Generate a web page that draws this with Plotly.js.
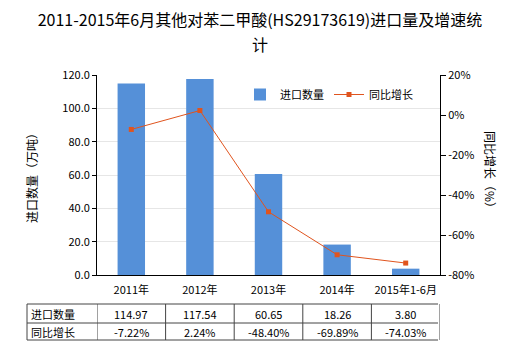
<!DOCTYPE html>
<html><head><meta charset="utf-8">
<script src="https://cdn.plot.ly/plotly-3.0.1.min.js"></script>
<style>html,body{margin:0;padding:0;background:#fff}#c{width:520px;height:350px}</style>
</head><body><div id="c"></div>
<script>
const categories = ['2011年','2012年','2013年','2014年','2015年1-6月'];
const importQty = [114.97, 117.54, 60.65, 18.26, 3.80];
const growthPct = [-7.22, 2.24, -48.40, -69.89, -74.03];
const qtyLabels = ['114.97','117.54','60.65','18.26','3.80'];
const growthLabels = ['-7.22%','2.24%','-48.40%','-69.89%','-74.03%'];
const rowNames = ['进口数量','同比增长'];
const y2TickVals = [-80,-60,-40,-20,0,20];
const y2TickText = ['-80%','-60%','-40%','-20%','0%','20%'];
const titleLine1 = '2011-2015年6月其他对苯二甲酸(HS29173619)进口量及增速统';
const titleLine2 = '计';

const FONT = '"Noto Sans CJK SC", "Microsoft YaHei", sans-serif';
const L = 97, R = 440, T = 75, B = 275, W = 520, H = 350;
const px = x => (x - L) / (R - L);
const py = y => (B - y) / (B - T);

const xs = categories.map((c, i) => i);

const traces = [
  {type:'bar', x: xs, y: importQty, name:'进口数量', width:0.4,
   marker:{color:'#5590d8'}, yaxis:'y'},
  {type:'scatter', mode:'lines+markers', x: xs, y: growthPct, name:'同比增长', yaxis:'y2',
   line:{color:'#e0541e', width:1}, marker:{color:'#e0541e', size:5, symbol:'square'}}
];

const shapes = [];
const annotations = [];
const rowY = [304, 323, 340];
rowY.forEach(y => shapes.push({type:'line', xref:'paper', yref:'paper',
  x0: px(27), x1: px(438), y0: py(y), y1: py(y), line:{color:'#444', width:1}}));
shapes.push({type:'line', xref:'paper', yref:'paper', x0:px(27), x1:px(27), y0:py(304), y1:py(340), line:{color:'#444', width:1}});
for (let i = 0; i <= categories.length; i++) {
  shapes.push({type:'line', xref:'x', yref:'paper', x0:i-0.5, x1:i-0.5, y0:py(304), y1:py(340), line:{color:'#444', width:1}});
}
rowNames.forEach((n, r) => annotations.push({xref:'paper', yref:'paper', x:px(29), y:py(r===0?313.5:331.5),
  xanchor:'left', yanchor:'middle', text:n, showarrow:false, font:{family:FONT, size:11, color:'#000'}}));
categories.forEach((c, i) => {
  annotations.push({xref:'x', yref:'paper', x:i, y:py(314), yanchor:'middle', text:qtyLabels[i], showarrow:false, font:{family:FONT, size:11, color:'#000'}});
  annotations.push({xref:'x', yref:'paper', x:i, y:py(331.5), yanchor:'middle', text:growthLabels[i], showarrow:false, font:{family:FONT, size:11, color:'#000'}});
});
annotations.push({xref:'paper', yref:'paper', x:px(491), y:py(173), xanchor:'center', yanchor:'middle',
  text:'同比增长（%）', textangle:90, showarrow:false, font:{family:FONT, size:12, color:'#000'}});
annotations.push({xref:'paper', yref:'paper', x:px(260), y:py(44), xanchor:'center', yanchor:'middle',
  text:titleLine2, showarrow:false, font:{family:FONT, size:16, color:'#000'}});

const layout = {
  width: W, height: H,
  margin: {l: L, r: W - R, t: T, b: H - B},
  paper_bgcolor:'#fff', plot_bgcolor:'#fff',
  font:{family:FONT, size:11, color:'#000'},
  title:{text:titleLine1, x:0.5, xanchor:'center', y:1 - 20/350, yanchor:'middle',
    font:{family:FONT, size:16, color:'#000'}},
  showlegend:true,
  legend:{orientation:'h', x:px(240), y:py(80), xanchor:'left', yanchor:'top', bgcolor:'rgba(0,0,0,0)',
    font:{family:FONT, size:11}, traceorder:'normal'},
  xaxis:{range:[-0.5, 4.5], tickvals: xs, ticktext: categories, showgrid:false, zeroline:false,
    showline:true, linecolor:'#000', ticks:'', ticklabelstandoff:5, tickfont:{family:FONT, size:11}, fixedrange:true},
  yaxis:{range:[0,120], dtick:20, tickformat:'.1f', showline:true, linecolor:'#000', ticks:'outside', ticklen:4,
    tickcolor:'#000', gridcolor:'#e6e6e6', zeroline:false, tickfont:{family:FONT, size:11},
    title:{text:'进口数量（万吨）', font:{family:FONT, size:12}, standoff:22}},
  yaxis2:{range:[-80,20], tickvals:y2TickVals, ticktext:y2TickText, overlaying:'y', side:'right', showline:true, linecolor:'#000',
    ticks:'outside', ticklen:5, tickcolor:'#000', showgrid:false, zeroline:false, tickfont:{family:FONT, size:11}},
  shapes, annotations,
  bargap:0.6
};
Plotly.newPlot('c', traces, layout, {displayModeBar:false, staticPlot:true});
</script></body></html>
